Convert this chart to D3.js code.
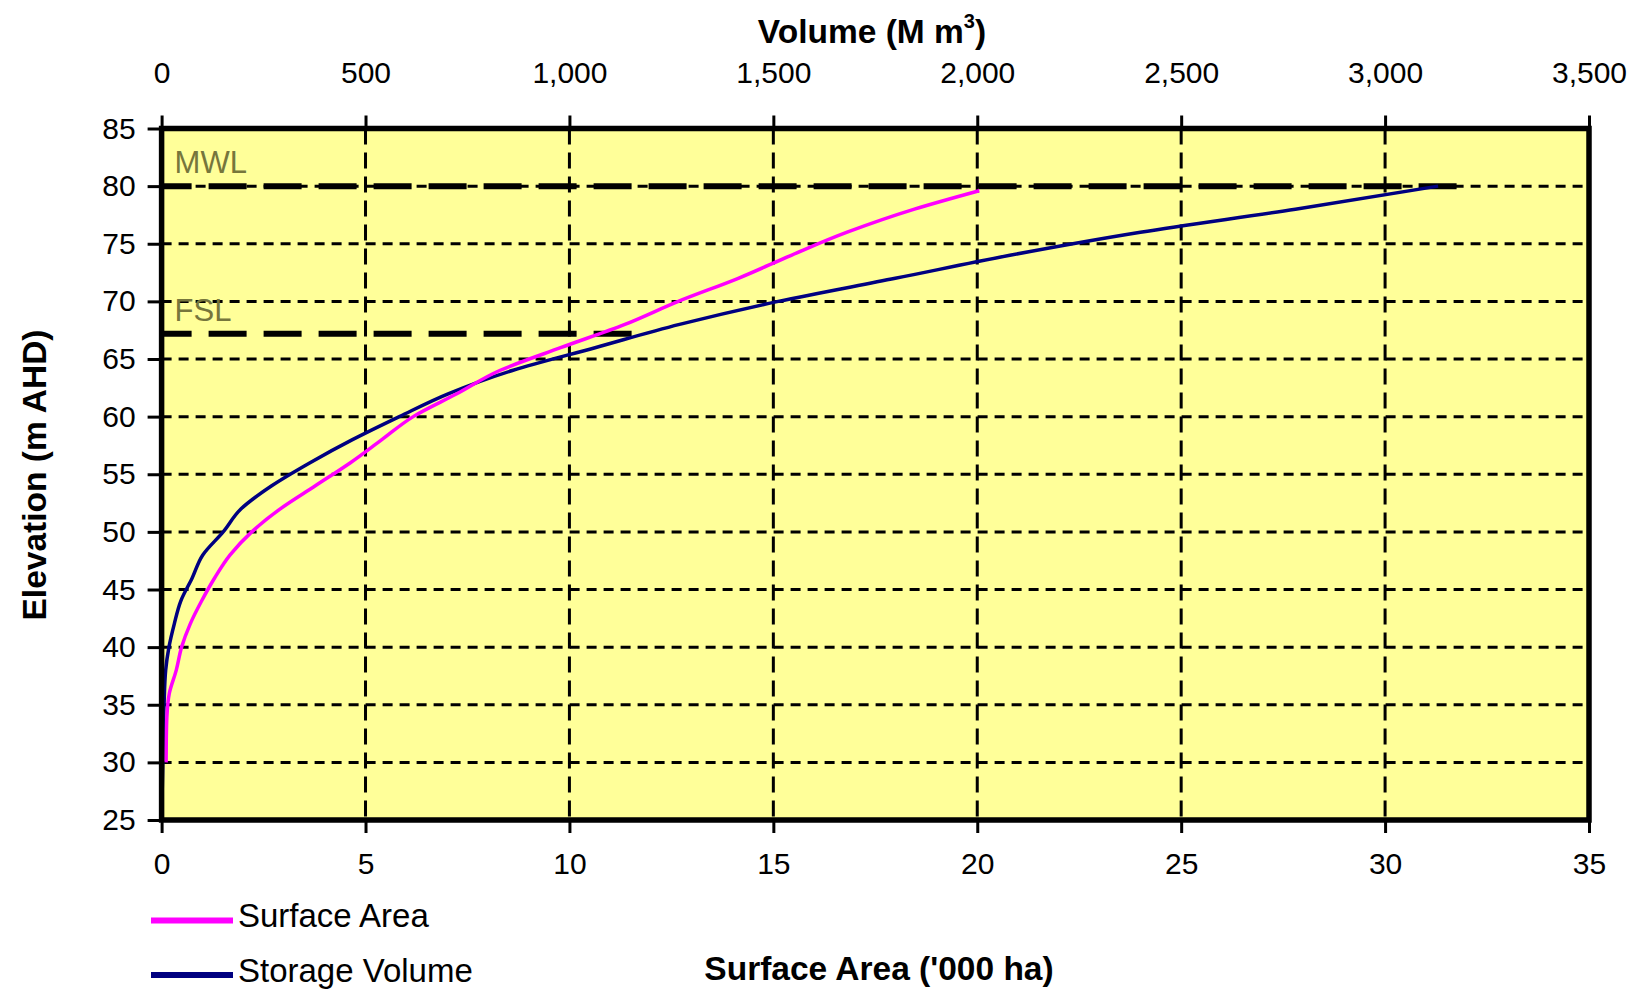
<!DOCTYPE html>
<html>
<head>
<meta charset="utf-8">
<script src="https://cdn.jsdelivr.net/npm/d3@7"></script>
<style>
  html, body { margin: 0; padding: 0; background: #ffffff; }
  svg { display: block; font-family: Arial, "Liberation Sans", sans-serif; }
</style>
</head>
<body>
<div id="chart"></div>
<script>
// Curva de embalse: superficie y volumen almacenado frente a cota

// superficie ('000 ha) por cota (m AHD)
const AREA_ELEV = [30, 32, 34, 36, 38, 40, 42, 44, 46, 48, 50, 52, 54, 56, 58, 60, 62, 64, 66, 68, 70, 72, 74, 76, 78, 79.6];
const AREA_VAL  = [0.11, 0.115, 0.13, 0.19, 0.36, 0.49, 0.70, 0.98, 1.30, 1.68, 2.21, 2.91, 3.77, 4.63, 5.40, 6.17, 7.25, 8.29, 9.80, 11.36, 12.67, 14.14, 15.44, 16.81, 18.46, 20.05];

// volumen (M m3) por cota
const VOL_ELEV = [25, 30, 35, 38, 40, 42, 44, 46, 48, 50, 52, 54, 56, 58, 60, 62, 64, 66, 68, 70, 72, 74, 76, 78, 80];
const VOL_VAL  = [0, 3, 6, 10, 18, 31, 47, 75, 101, 151, 195, 270, 364, 468, 583, 704, 860, 1065, 1270, 1512, 1799, 2080, 2400, 2780, 3130];

// niveles de referencia: cota y hasta donde llega la linea (en '000 ha)
const LEVEL_NAMES = ["MWL", "FSL"];
const LEVEL_ELEV  = [80, 67.2];
const LEVEL_END   = [31.8, 11.55];

const AREA_TICKS = [0, 5, 10, 15, 20, 25, 30, 35];
const VOL_TICKS  = [0, 500, 1000, 1500, 2000, 2500, 3000, 3500];
const ELEV_TICKS = [25, 30, 35, 40, 45, 50, 55, 60, 65, 70, 75, 80, 85];

const SERIES_NAMES = ["Surface Area", "Storage Volume"];
const COLORS = { "Surface Area": "#ff00ff", "Storage Volume": "#000080" };

const width = 1635, height = 990;
const margin = { top: 128.5, right: 46, bottom: 170, left: 161.6 };

const svg = d3.select('#chart').append('svg')
  .attr('width', width).attr('height', height);

const x = d3.scaleLinear().domain([0, 35]).range([margin.left, width - margin.right]);
const xVol = d3.scaleLinear().domain([0, 3500]).range([margin.left, width - margin.right]);
const y = d3.scaleLinear().domain([25, 85]).range([height - margin.bottom, margin.top]);

// fondo amarillo
svg.append('rect')
  .attr('x', x(0)).attr('y', y(85))
  .attr('width', x(35) - x(0)).attr('height', y(25) - y(85))
  .attr('fill', '#ffff99');

// rejilla discontinua
const grid = svg.append('g');
AREA_TICKS.filter(d => d > 0 && d < 35).forEach(d => {
  grid.append('line')
    .attr('x1', x(d)).attr('x2', x(d)).attr('y1', y(85)).attr('y2', y(25))
    .attr('stroke', '#000').attr('stroke-width', 3).attr('stroke-dasharray', '16,8');
});
ELEV_TICKS.filter(d => d > 25 && d < 85).forEach(d => {
  grid.append('line')
    .attr('x1', x(0)).attr('x2', x(35)).attr('y1', y(d)).attr('y2', y(d))
    .attr('stroke', '#000').attr('stroke-width', 3).attr('stroke-dasharray', '10,7');
});

// lineas MWL / FSL
LEVEL_NAMES.forEach((name, i) => {
  svg.append('line')
    .attr('x1', x(0)).attr('x2', x(LEVEL_END[i]))
    .attr('y1', y(LEVEL_ELEV[i])).attr('y2', y(LEVEL_ELEV[i]))
    .attr('stroke', '#000').attr('stroke-width', 6)
    .attr('stroke-dasharray', '38,17').attr('stroke-dashoffset', 8);
  svg.append('text')
    .attr('x', x(0) + 13).attr('y', y(LEVEL_ELEV[i]) - 13)
    .attr('fill', '#76763c').attr('font-size', '31px')
    .text(name);
});

// curvas
const areaPts = AREA_ELEV.map((e, i) => [x(AREA_VAL[i]), y(e)]);
const volPts = VOL_ELEV.map((e, i) => [xVol(VOL_VAL[i]), y(e)]);
const line = d3.line().curve(d3.curveMonotoneY);

svg.append('path').attr('d', line(volPts))
  .attr('fill', 'none').attr('stroke', COLORS["Storage Volume"]).attr('stroke-width', 3.5);
svg.append('path').attr('d', line(areaPts))
  .attr('fill', 'none').attr('stroke', COLORS["Surface Area"]).attr('stroke-width', 3.5);

// marco grueso
svg.append('rect')
  .attr('x', x(0)).attr('y', y(85))
  .attr('width', x(35) - x(0)).attr('height', y(25) - y(85))
  .attr('fill', 'none').attr('stroke', '#000').attr('stroke-width', 5.5);

// ejes
function styleAxis(g) {
  g.select('.domain').remove();
  g.selectAll('.tick line').attr('stroke', '#000').attr('stroke-width', 3);
  g.selectAll('.tick text').attr('fill', '#000').attr('font-size', '30px')
    .attr('font-family', 'Arial, "Liberation Sans", sans-serif');
}

svg.append('g')
  .attr('transform', `translate(${x(0)},0)`)
  .call(d3.axisLeft(y).tickValues(ELEV_TICKS).tickSize(14).tickPadding(12))
  .call(styleAxis);

svg.append('g')
  .attr('transform', `translate(0,${y(25)})`)
  .call(d3.axisBottom(x).tickValues(AREA_TICKS).tickSize(13).tickPadding(20))
  .call(styleAxis);

svg.append('g')
  .attr('transform', `translate(0,${y(85)})`)
  .call(d3.axisTop(xVol).tickValues(VOL_TICKS).tickFormat(d3.format(',')).tickSize(13).tickPadding(33))
  .call(styleAxis);

// titulos de ejes
svg.append('text')
  .attr('x', 872).attr('y', 43).attr('text-anchor', 'middle')
  .attr('font-size', '33.5px').attr('font-weight', 'bold')
  .text('Volume (M m')
  .call(t => {
    t.append('tspan').attr('font-size', '20px').attr('dy', -15).text('3');
    t.append('tspan').attr('dy', 15).text(')');
  });

svg.append('text')
  .attr('x', 879).attr('y', 980).attr('text-anchor', 'middle')
  .attr('font-size', '33.5px').attr('font-weight', 'bold')
  .text("Surface Area ('000 ha)");

svg.append('text')
  .attr('transform', 'translate(46,475) rotate(-90)')
  .attr('text-anchor', 'middle')
  .attr('font-size', '33.5px').attr('font-weight', 'bold')
  .text('Elevation (m AHD)');

// leyenda
SERIES_NAMES.forEach((name, i) => {
  const ly = 920.5 + i * 54.5;
  svg.append('line')
    .attr('x1', 151).attr('x2', 233).attr('y1', ly).attr('y2', ly)
    .attr('stroke', COLORS[name]).attr('stroke-width', 6);
  svg.append('text')
    .attr('x', 238).attr('y', ly + 6.5)
    .attr('font-size', '33px').attr('fill', '#000')
    .text(name);
});
</script>
</body>
</html>
